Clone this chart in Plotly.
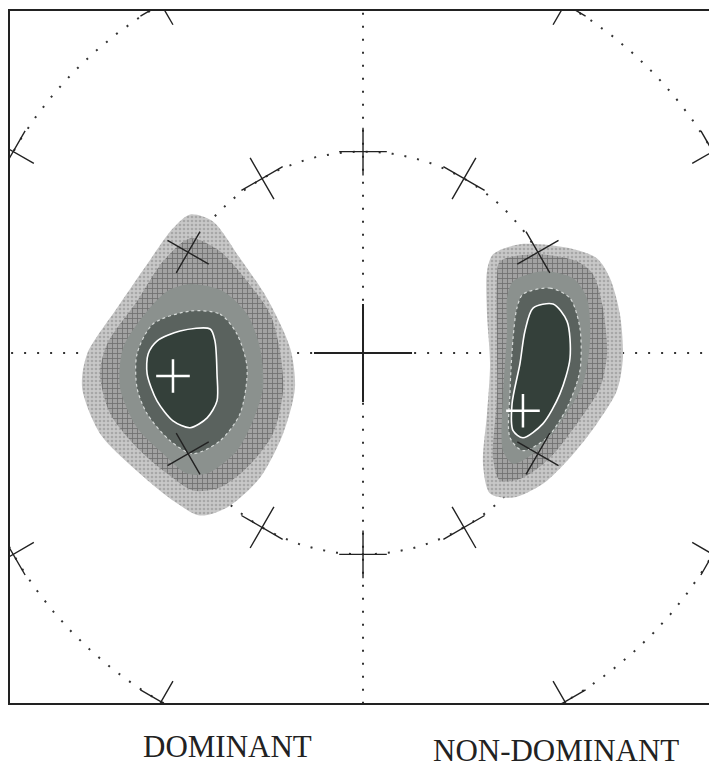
import numpy as np
import plotly.graph_objects as go

# contour outlines (inner circle radius = 1)
# left blob, outermost level first
dom_x = [
    [-0.856, -0.743, -0.609, -0.475, -0.361, -0.337, -0.396, -0.510, -0.673, -0.807, -0.941, -1.139, -1.302, -1.391, -1.366, -1.218, -1.069, -0.941],
    [-0.856, -0.708, -0.574, -0.460, -0.411, -0.396, -0.446, -0.574, -0.708, -0.842, -0.970, -1.119, -1.252, -1.302, -1.267, -1.119, -0.990],
    [-0.856, -0.693, -0.574, -0.510, -0.495, -0.545, -0.624, -0.772, -0.871, -0.990, -1.119, -1.203, -1.188, -1.069, -0.970],
    [-0.856, -0.708, -0.624, -0.574, -0.609, -0.708, -0.842, -0.955, -1.069, -1.119, -1.119, -1.040],
    [-1.020, -0.906, -0.757, -0.733, -0.723, -0.723, -0.772, -0.856, -0.941, -1.020, -1.069, -1.064],
]
dom_y = [
    [0.688, 0.653, 0.470, 0.272, 0.025, -0.173, -0.401, -0.619, -0.767, -0.807, -0.733, -0.569, -0.401, -0.173, -0.005, 0.223, 0.441, 0.619],
    [0.569, 0.505, 0.356, 0.193, 0.010, -0.188, -0.401, -0.569, -0.668, -0.683, -0.599, -0.470, -0.302, -0.104, 0.045, 0.257, 0.455],
    [0.342, 0.307, 0.193, 0.025, -0.173, -0.337, -0.485, -0.599, -0.599, -0.500, -0.371, -0.173, 0.025, 0.208, 0.307],
    [0.208, 0.193, 0.094, -0.074, -0.302, -0.436, -0.500, -0.436, -0.302, -0.173, -0.005, 0.144],
    [0.059, 0.109, 0.119, 0.059, -0.104, -0.238, -0.322, -0.371, -0.337, -0.238, -0.104, -0.005],
]
# right blob
nondom_x = [
    [0.644, 0.777, 1.025, 1.158, 1.223, 1.272, 1.287, 1.257, 1.158, 1.025, 0.891, 0.743, 0.629, 0.594, 0.614, 0.629, 0.614, 0.614],
    [0.678, 0.861, 1.059, 1.139, 1.188, 1.208, 1.173, 1.059, 0.926, 0.792, 0.678, 0.644, 0.663, 0.663, 0.663],
    [0.743, 0.891, 1.040, 1.109, 1.124, 1.089, 0.975, 0.861, 0.743, 0.693, 0.693, 0.713, 0.713],
    [0.792, 0.926, 1.025, 1.074, 1.074, 1.010, 0.911, 0.792, 0.728, 0.728, 0.743, 0.762],
    [0.842, 0.941, 1.010, 1.025, 0.975, 0.891, 0.792, 0.743, 0.738, 0.777, 0.802],
]
nondom_y = [
    [0.490, 0.540, 0.520, 0.470, 0.371, 0.193, -0.025, -0.188, -0.351, -0.520, -0.649, -0.718, -0.698, -0.550, -0.302, -0.054, 0.193, 0.406],
    [0.455, 0.490, 0.455, 0.391, 0.223, -0.005, -0.173, -0.351, -0.520, -0.619, -0.634, -0.520, -0.223, 0.109, 0.356],
    [0.356, 0.406, 0.371, 0.272, 0.059, -0.153, -0.351, -0.485, -0.550, -0.485, -0.223, 0.109, 0.272],
    [0.292, 0.322, 0.272, 0.124, -0.089, -0.272, -0.421, -0.485, -0.421, -0.188, 0.074, 0.223],
    [0.223, 0.243, 0.158, -0.025, -0.203, -0.351, -0.421, -0.386, -0.252, -0.054, 0.109],
]
peak_x = [-0.941, 0.792]
peak_y = [-0.114, -0.287]

level_colors = ['#c8c8c8', '#a2a2a2', '#8b918e', '#5a625e', '#34403a']
mark_angles = [0, 30, 60, 90, 120, 150, 180, 210, 240, 270, 300, 330]
labels = ['DOMINANT', 'NON-DOMINANT']

fig = go.Figure()

dot_line = dict(color='#333333', width=2, dash='2px,11px')
t = np.linspace(0, 2 * np.pi, 721)
for r in [1, 2]:
    fig.add_trace(go.Scatter(x=r * np.cos(t), y=r * np.sin(t), mode='lines',
                             line=dot_line, hoverinfo='skip'))
fig.add_trace(go.Scatter(x=[-2, 2], y=[0, 0], mode='lines', line=dot_line, hoverinfo='skip'))
fig.add_trace(go.Scatter(x=[0, 0], y=[-2, 2], mode='lines', line=dot_line, hoverinfo='skip'))

# dithered look of the two outer levels
patterns = [dict(shape='.', fgcolor='#858585', bgcolor=level_colors[0], size=4, solidity=0.35),
            dict(shape='+', fgcolor='#3a3a3a', bgcolor=level_colors[1], size=5, solidity=0.3)]

for xs, ys in [(dom_x, dom_y), (nondom_x, nondom_y)]:
    for i in range(5):
        if i == 4:
            ln = dict(color='white', width=1.6, shape='spline', smoothing=0.8)
        elif i == 3:
            ln = dict(color='#d6dad8', width=1.2, shape='spline', smoothing=0.8, dash='dot')
        else:
            ln = dict(width=0, shape='spline', smoothing=0.8)
        extra = dict(fillpattern=patterns[i]) if i < 2 else {}
        fig.add_trace(go.Scatter(x=xs[i] + [xs[i][0]], y=ys[i] + [ys[i][0]], mode='lines',
                                 fill='toself', fillcolor=level_colors[i], line=ln,
                                 hoverinfo='skip', **extra))

# radial/tangential ticks on the two rings
for r in [1, 2]:
    angs = [a for a in mark_angles if not (r == 1 and a in (0, 180))]
    fig.add_trace(go.Scatter(
        x=[r * np.cos(np.radians(a)) for a in angs],
        y=[r * np.sin(np.radians(a)) for a in angs],
        mode='markers', hoverinfo='skip', cliponaxis=True,
        marker=dict(symbol='cross-thin', size=34, angle=[-a for a in angs],
                    line=dict(color='#222222', width=1.4))))

fig.add_trace(go.Scatter(x=[0], y=[0], mode='markers', hoverinfo='skip',
                         marker=dict(symbol='cross-thin', size=70,
                                     line=dict(color='#222222', width=2))))
fig.add_trace(go.Scatter(x=peak_x, y=peak_y, mode='markers', hoverinfo='skip',
                         marker=dict(symbol='cross-thin', size=24,
                                     line=dict(color='white', width=2.5))))

fig.add_annotation(x=0.310, y=-0.063, xref='paper', yref='paper', text=labels[0],
                   showarrow=False, xanchor='center', yanchor='middle',
                   font=dict(family='Liberation Serif', size=31, color='#222222'))
fig.add_annotation(x=0.777, y=-0.068, xref='paper', yref='paper', text=labels[1],
                   showarrow=False, xanchor='center', yanchor='middle',
                   font=dict(family='Liberation Serif', size=31, color='#222222'))

axis = dict(showgrid=False, zeroline=False, showticklabels=False, ticks='',
            showline=True, mirror=True, linecolor='#222222', linewidth=1.5)
# page body keeps its 8px margin, so the figure is sized to fit inside the window
fig.update_layout(
    width=709, height=759,
    margin=dict(l=2, r=4, t=1, b=64),
    paper_bgcolor='white', plot_bgcolor='white',
    showlegend=False,
    xaxis=dict(range=[-1.748, 1.733], **axis),
    yaxis=dict(range=[-1.738, 1.698], **axis),
)

fig.write_html("out.html")
